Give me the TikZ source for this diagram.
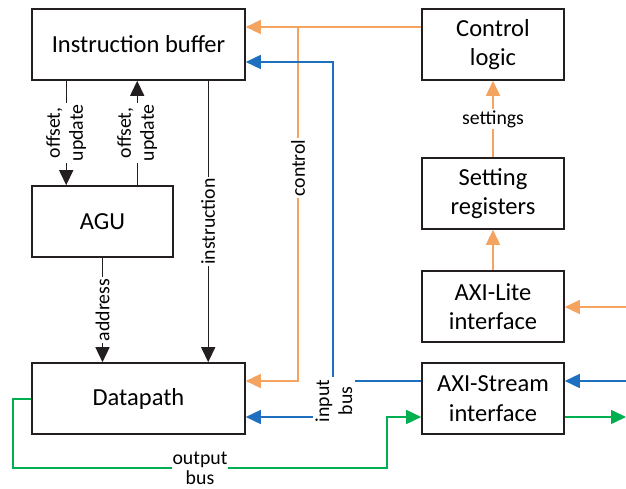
\documentclass[tikz,border=0pt]{standalone}
\usepackage{fontspec}
\setmainfont{Carlito}
\usetikzlibrary{arrows.meta}

\definecolor{ctrlorange}{RGB}{244,164,96}
\definecolor{busblue}{RGB}{30,112,190}
\definecolor{outgreen}{RGB}{0,176,80}
\definecolor{boxline}{RGB}{35,31,32}

\tikzset{
  block/.style={draw=boxline, line width=1.6pt, fill=white, align=center,
    font=\fontsize{24.5}{29.5}\selectfont, inner sep=0pt},
  wide/.style={block, minimum width=213pt, minimum height=71pt},
  narrow/.style={block, minimum width=142pt, minimum height=71pt},
  lbl/.style={fill=white, align=center, inner sep=1.5pt,
    font=\fontsize{19.8}{23}\selectfont},
  tip/.style={-{Triangle[length=15pt,width=14pt]}},
  sig/.style={draw=boxline, line width=1.4pt, tip},
  ctrl/.style={draw=ctrlorange, line width=1.6pt, tip},
  bus/.style={draw=busblue, line width=1.6pt, tip},
  outb/.style={draw=outgreen, line width=1.6pt, tip},
}

\begin{document}
\begin{tikzpicture}[x=1pt, y=-1pt]
\useasboundingbox (0,0) rectangle (626,489);

% blocks
\node[wide]   (IB)   at (138.5,44.5)  {Instruction buffer};
\node[block, minimum width=141pt, minimum height=71pt] (AGU) at (102.5,221.5) {AGU};
\node[wide]   (DP)   at (138.5,398.5) {Datapath};
\node[narrow] (CL)   at (493,44.5)    {Control\\logic};
\node[narrow] (SR)   at (493,193.5)   {Setting\\registers};
\node[narrow] (AL)   at (493,306.5)   {AXI-Lite\\interface};
\node[narrow] (AXIS) at (493,398.5)   {AXI-Stream\\interface};

% routing points
\coordinate (ctlJ) at (298,27);
\coordinate (ctlB) at (298,381);
\coordinate (inJ)  at (333,381);
\coordinate (inT)  at (333,62);
\coordinate (inB)  at (333,417);
\coordinate (outA) at (13,399);
\coordinate (outB) at (13,468);
\coordinate (outC) at (387,468);
\coordinate (outD) at (387,417);
\coordinate (liteIn) at (626,307);
\coordinate (strIn)  at (626,381);
\coordinate (strOut) at (626,417);

% address generation and instruction flow
\draw[sig] ([xshift=35pt]IB.south west) -- ([xshift=35pt]AGU.north west)
  node[lbl, rotate=90, midway] (offA) {offset,\\update};
\draw[sig] ([xshift=106pt]AGU.north west) -- ([xshift=106pt]IB.south west)
  node[lbl, rotate=90, midway] (offB) {offset,\\update};
\draw[sig] ([xshift=177pt]IB.south west) -- ([xshift=177pt]DP.north west)
  node[lbl, rotate=90, midway] (instr) {instruction};
\draw[sig] (AGU.south) -- (AGU.south |- DP.north)
  node[lbl, rotate=90, midway] (addr) {address};

% control signals
\draw[ctrl] (CL.west |- ctlJ) -- (IB.east |- ctlJ);
\draw[ctrl] (ctlJ) -- (ctlB) -- (DP.east |- ctlB);
\node[lbl, rotate=90] (ctlL) at (298,168) {control};
\draw[ctrl] (SR.north) -- (CL.south) node[lbl, midway] (setL) {settings};
\draw[ctrl] (AL.north) -- (SR.south);
\draw[ctrl] (liteIn) -- (AL.east |- liteIn);

% input stream
\draw[bus] (strIn) -- (AXIS.east |- strIn);
\draw[bus] (AXIS.west |- inJ) -- (inJ) -- (inT) -- (IB.east |- inT);
\draw[bus] (inJ) -- (inB) -- (DP.east |- inB);
\node[lbl, rotate=90, inner sep=3pt] (inL) at (334,401) {input\\bus};

% output stream
\draw[outb] (DP.west |- outA) -- (outA) -- (outB) -- (outC) -- (outD) -- (AXIS.west |- outD);
\node[lbl, inner sep=1pt, anchor=north, font=\fontsize{19.8}{19.5}\selectfont]
  (outL) at (200,451) {output\\bus};
\draw[outb] (AXIS.east |- strOut) -- (strOut);
\end{tikzpicture}
\end{document}
